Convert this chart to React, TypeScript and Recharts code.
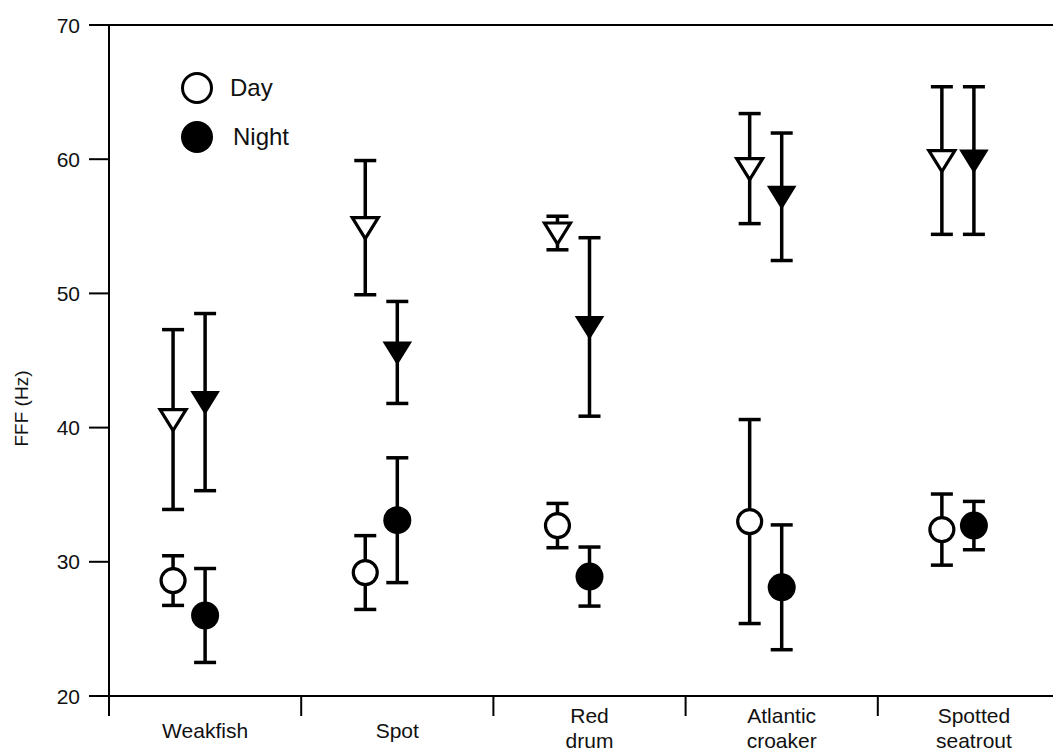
import { ScatterChart, Scatter, XAxis, YAxis, ErrorBar, ReferenceLine, Legend, Label } from 'recharts'

const categories = ['Weakfish', 'Spot', 'Red drum', 'Atlantic croaker', 'Spotted seatrout']

// circles (lower group)
const dayCircle = [28.6, 29.2, 32.7, 33.0, 32.4]
const dayCircleErr = [1.85, 2.75, 1.65, 7.6, 2.65]
const nightCircle = [26.0, 33.1, 28.9, 28.1, 32.7]
const nightCircleErr = [3.5, 4.65, 2.2, 4.65, 1.8]

// triangles (upper group)
const dayTri = [40.6, 54.9, 54.5, 59.3, 59.9]
const dayTriErr = [6.7, 5.0, 1.25, 4.1, 5.5]
const nightTri = [41.9, 45.6, 47.5, 57.2, 59.9]
const nightTriErr = [6.6, 3.8, 6.65, 4.75, 5.5]

const yTicks = [20, 30, 40, 50, 60, 70]
const dividerTicks = [0, 1, 2, 3, 4, 5]
const labelTicks = [0.5, 1.5, 2.5, 3.5, 4.5]

const DAY_OFFSET = 1 / 3
const NIGHT_OFFSET = 0.5

const FONT = '"Liberation Sans", Arial, sans-serif'

const build = (vals: number[], errs: number[], offset: number) =>
  vals.map((y, i) => ({ x: i + offset, y, err: errs[i], name: categories[i] }))

const OpenCircle = (props: any) => (
  <circle cx={props.cx} cy={props.cy} r={12} fill="#fff" stroke="#000" strokeWidth={3.2} />
)
const FilledCircle = (props: any) => <circle cx={props.cx} cy={props.cy} r={14} fill="#000" />

const triPath = (cx: number, cy: number) =>
  `M${cx - 13},${cy - 10} L${cx + 13},${cy - 10} L${cx},${cy + 11} Z`
const OpenTri = (props: any) => (
  <path d={triPath(props.cx, props.cy)} fill="#fff" stroke="#000" strokeWidth={3.2} strokeLinejoin="miter" />
)
const FilledTri = (props: any) => (
  <path d={triPath(props.cx, props.cy)} fill="#000" stroke="#000" strokeWidth={2} />
)

const CategoryTick = (props: any) => {
  const { x, y, payload } = props
  const name = categories[Math.floor(payload.value)] || ''
  const lines = name.split(' ')
  if (lines.length === 1) {
    return (
      <text x={x} y={y + 41} textAnchor="middle" fontSize={21} fontFamily={FONT} fill="#111">
        {lines[0]}
      </text>
    )
  }
  return (
    <text x={x} y={y + 26} textAnchor="middle" fontSize={21} fontFamily={FONT} fill="#111">
      <tspan x={x}>{lines[0]}</tspan>
      <tspan x={x} dy={25}>{lines[1]}</tspan>
    </text>
  )
}

const ValueTick = (props: any) => {
  const { x, y, payload } = props
  return (
    <text x={x} y={y} dy={7.5} textAnchor="end" fontSize={21} fontFamily={FONT} fill="#111">
      {payload.value}
    </text>
  )
}

const YLabel = (props: any) => {
  const { viewBox } = props
  const cx = viewBox.x + 21
  const cy = viewBox.y + viewBox.height / 2 + 48
  return (
    <text
      x={cx}
      y={cy}
      transform={`rotate(-90, ${cx}, ${cy})`}
      textAnchor="middle"
      dominantBaseline="central"
      fontSize={19}
      fontFamily={FONT}
      fill="#111"
    >
      FFF (Hz)
    </text>
  )
}

const LegendBox = () => (
  <div style={{ fontFamily: FONT, fontSize: 24, color: '#111' }}>
    {[
      { label: 'Day', filled: false },
      { label: 'Night', filled: true },
    ].map((it) => (
      <div key={it.label} style={{ display: 'flex', alignItems: 'center', height: 49 }}>
        <svg width={34} height={34}>
          {it.filled ? (
            <circle cx={17} cy={17} r={16} fill="#000" />
          ) : (
            <circle cx={17} cy={17} r={14.5} fill="#fff" stroke="#000" strokeWidth={3} />
          )}
        </svg>
        <span style={{ marginLeft: it.filled ? 19 : 16 }}>{it.label}</span>
      </div>
    ))}
  </div>
)

export default function App() {
  return (
    <div
      style={{
        marginLeft: -8,
        marginTop: -8,
        width: 1061,
        height: 754,
        overflow: 'hidden',
        background: '#fff',
        position: 'relative',
      }}
    >
      <ScatterChart width={1080} height={754} margin={{ top: 25, right: 10, bottom: 0, left: 0 }}>
        <XAxis
          xAxisId="div"
          type="number"
          dataKey="x"
          domain={[0, 5]}
          ticks={dividerTicks}
          interval={0}
          tickFormatter={() => ''}
          tickSize={20}
          height={1}
          axisLine={{ stroke: '#000', strokeWidth: 2 }}
          tickLine={{ stroke: '#000', strokeWidth: 2 }}
        />
        <XAxis
          xAxisId="lbl"
          type="number"
          dataKey="x"
          domain={[0, 5]}
          ticks={labelTicks}
          interval={0}
          axisLine={false}
          tickLine={false}
          tickSize={0}
          tickMargin={0}
          height={57}
          tick={<CategoryTick />}
        />
        <YAxis
          type="number"
          dataKey="y"
          domain={[20, 70]}
          ticks={yTicks}
          interval={0}
          width={109}
          tickSize={20}
          tickMargin={9}
          axisLine={{ stroke: '#000', strokeWidth: 2 }}
          tickLine={{ stroke: '#000', strokeWidth: 2 }}
          tick={<ValueTick />}
        >
          <Label content={<YLabel />} />
        </YAxis>
        <ReferenceLine xAxisId="div" y={70} stroke="#000" strokeWidth={2} />
        <Legend
          layout="vertical"
          align="center"
          verticalAlign="middle"
          wrapperStyle={{ left: 180, top: 63, width: 140 }}
          content={<LegendBox />}
        />
        <Scatter xAxisId="div" data={build(dayTri, dayTriErr, DAY_OFFSET)} shape={OpenTri} isAnimationActive={false}>
          <ErrorBar dataKey="err" direction="y" width={11} stroke="#000" strokeWidth={3.5} />
        </Scatter>
        <Scatter xAxisId="div" data={build(nightTri, nightTriErr, NIGHT_OFFSET)} shape={FilledTri} isAnimationActive={false}>
          <ErrorBar dataKey="err" direction="y" width={11} stroke="#000" strokeWidth={3.5} />
        </Scatter>
        <Scatter xAxisId="lbl" data={build(dayCircle, dayCircleErr, DAY_OFFSET)} shape={OpenCircle} isAnimationActive={false}>
          <ErrorBar dataKey="err" direction="y" width={11} stroke="#000" strokeWidth={3.5} />
        </Scatter>
        <Scatter xAxisId="lbl" data={build(nightCircle, nightCircleErr, NIGHT_OFFSET)} shape={FilledCircle} isAnimationActive={false}>
          <ErrorBar dataKey="err" direction="y" width={11} stroke="#000" strokeWidth={3.5} />
        </Scatter>
      </ScatterChart>
    </div>
  )
}
